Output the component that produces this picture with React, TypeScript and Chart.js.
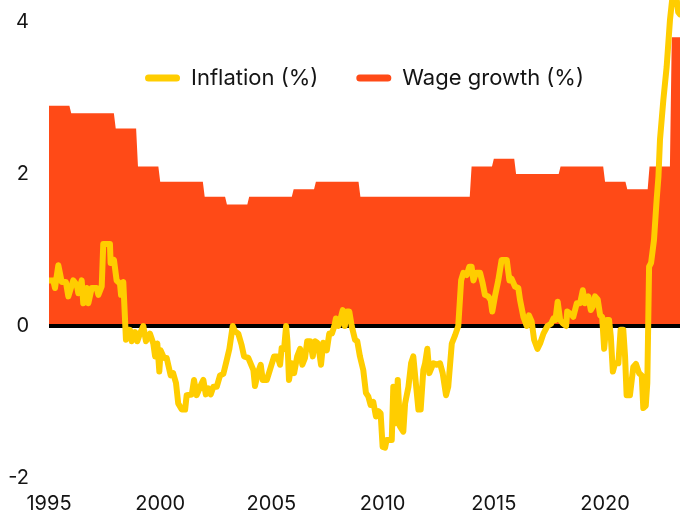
import React, { useEffect, useRef } from "react";
import { Chart, registerables } from "chart.js";

Chart.register(...registerables);

// Axis ticks
const xTickYears = [1995, 2000, 2005, 2010, 2015, 2020];
const yTickValues = [-2, 0, 2, 4];
const X_MIN = 1995;
const X_MAX = 2023.37;
const Y_MIN = -2;
const Y_MAX = 4.29;

// Wage growth (%), one value per year
const wageYears = [
  1995, 1996, 1997, 1998, 1999, 2000, 2001, 2002, 2003, 2004, 2005, 2006, 2007, 2008, 2009,
  2010, 2011, 2012, 2013, 2014, 2015, 2016, 2017, 2018, 2019, 2020, 2021, 2022, 2023,
];
const wageValues = [
  2.9, 2.8, 2.8, 2.6, 2.1, 1.9, 1.9, 1.7, 1.6, 1.7, 1.7, 1.8, 1.9, 1.9, 1.7,
  1.7, 1.7, 1.7, 1.7, 2.1, 2.2, 2.0, 2.0, 2.1, 2.1, 1.9, 1.8, 2.1, 3.8,
];

// Inflation (%), dates as decimal years
const inflationDates = [
  1995.0, 1995.19, 1995.27, 1995.42, 1995.57, 1995.76, 1995.87, 1996.09, 1996.25, 1996.32,
  1996.47, 1996.54, 1996.7, 1996.77, 1996.92, 1997.14, 1997.22, 1997.37, 1997.44, 1997.74,
  1997.77, 1997.92, 1998.04, 1998.19, 1998.24, 1998.34, 1998.46, 1998.52, 1998.64, 1998.72,
  1998.87, 1998.97, 1999.09, 1999.24, 1999.36, 1999.54, 1999.69, 1999.77, 1999.87, 1999.96,
  2000.02, 2000.17, 2000.29, 2000.47, 2000.58, 2000.71, 2000.81, 2000.97, 2001.12, 2001.19,
  2001.42, 2001.52, 2001.64, 2001.87, 2001.94, 2002.05, 2002.16, 2002.27, 2002.39, 2002.54,
  2002.69, 2002.84, 2002.99, 2003.11, 2003.26, 2003.36, 2003.51, 2003.66, 2003.77, 2003.96,
  2004.19, 2004.26, 2004.41, 2004.52, 2004.61, 2004.79, 2004.91, 2005.12, 2005.27, 2005.39,
  2005.46, 2005.57, 2005.66, 2005.72, 2005.79, 2005.91, 2006.02, 2006.16, 2006.29, 2006.39,
  2006.51, 2006.61, 2006.74, 2006.86, 2006.96, 2007.06, 2007.14, 2007.23, 2007.33, 2007.49,
  2007.6, 2007.72, 2007.83, 2007.9, 2008.01, 2008.11, 2008.21, 2008.3, 2008.39, 2008.5,
  2008.61, 2008.76, 2008.86, 2008.98, 2009.13, 2009.25, 2009.36, 2009.46, 2009.58, 2009.7,
  2009.81, 2009.91, 2010.0, 2010.11, 2010.18, 2010.41, 2010.48, 2010.59, 2010.68, 2010.78,
  2010.93, 2011.01, 2011.16, 2011.28, 2011.38, 2011.46, 2011.61, 2011.71, 2011.83, 2011.91,
  2012.01, 2012.1, 2012.28, 2012.43, 2012.58, 2012.7, 2012.85, 2012.95, 2013.11, 2013.26,
  2013.4, 2013.53, 2013.63, 2013.78, 2013.9, 2014.0, 2014.08, 2014.2, 2014.38, 2014.5,
  2014.6, 2014.75, 2014.86, 2014.93, 2015.05, 2015.2, 2015.35, 2015.58, 2015.7, 2015.8,
  2015.95, 2016.1, 2016.18, 2016.33, 2016.48, 2016.58, 2016.7, 2016.81, 2016.96, 2017.08,
  2017.23, 2017.41, 2017.57, 2017.68, 2017.77, 2017.87, 2017.98, 2018.12, 2018.25, 2018.3,
  2018.5, 2018.57, 2018.73, 2018.88, 2019.0, 2019.1, 2019.25, 2019.36, 2019.46, 2019.55,
  2019.67, 2019.78, 2019.87, 2019.96, 2020.08, 2020.18, 2020.26, 2020.35, 2020.45, 2020.6,
  2020.7, 2020.82, 2020.9, 2020.97, 2021.12, 2021.27, 2021.39, 2021.53, 2021.65, 2021.72,
  2021.83, 2021.9, 2021.98, 2022.07, 2022.2, 2022.32, 2022.4, 2022.47, 2022.62, 2022.77,
  2022.92, 2023.02, 2023.22, 2023.29, 2023.37,
];
const inflationValues = [
  0.6, 0.6, 0.5, 0.8, 0.58, 0.58, 0.39, 0.6, 0.54, 0.43,
  0.6, 0.3, 0.5, 0.3, 0.5, 0.5, 0.41, 0.52, 1.08, 1.08,
  0.83, 0.87, 0.6, 0.56, 0.41, 0.58, -0.18, -0.05, -0.05, -0.2,
  -0.08, -0.2, -0.1, 0.0, -0.2, -0.1, -0.23, -0.4, -0.23, -0.6,
  -0.32, -0.42, -0.42, -0.65, -0.62, -0.75, -1.02, -1.1, -1.1, -0.91,
  -0.9, -0.71, -0.91, -0.75, -0.71, -0.9, -0.82, -0.9, -0.8, -0.8,
  -0.65, -0.63, -0.45, -0.3, 0.0, -0.07, -0.1, -0.25, -0.4, -0.42,
  -0.58, -0.79, -0.6, -0.51, -0.71, -0.71, -0.6, -0.4, -0.4, -0.51,
  -0.29, -0.3, 0.0, -0.2, -0.71, -0.49, -0.62, -0.4, -0.3, -0.51,
  -0.42, -0.2, -0.2, -0.4, -0.2, -0.22, -0.32, -0.51, -0.22, -0.32,
  -0.1, -0.1, 0.0, 0.1, 0.0, 0.1, 0.21, 0.0, 0.19, 0.19,
  0.0, -0.18, -0.2, -0.4, -0.58, -0.88, -0.93, -1.04, -1.0, -1.19,
  -1.12, -1.15, -1.59, -1.6, -1.5, -1.5, -0.8, -1.28, -0.71, -1.32,
  -1.39, -1.02, -0.8, -0.49, -0.4, -0.65, -1.1, -1.1, -0.58, -0.49,
  -0.3, -0.62, -0.49, -0.51, -0.49, -0.62, -0.91, -0.8, -0.23, -0.12,
  0.0, 0.6, 0.7, 0.67, 0.78, 0.78, 0.6, 0.7, 0.7, 0.56,
  0.41, 0.39, 0.34, 0.19, 0.39, 0.6, 0.87, 0.87, 0.6, 0.62,
  0.52, 0.5, 0.34, 0.12, 0.0, 0.14, 0.06, -0.18, -0.3, -0.23,
  -0.1, 0.0, 0.03, 0.1, 0.08, 0.32, 0.08, 0.03, 0.0, 0.19,
  0.15, 0.12, 0.3, 0.3, 0.47, 0.3, 0.39, 0.21, 0.26, 0.39,
  0.35, 0.14, 0.12, -0.3, 0.08, 0.08, -0.14, -0.6, -0.49, -0.49,
  -0.05, -0.05, -0.4, -0.91, -0.91, -0.54, -0.5, -0.62, -0.65, -1.08,
  -1.05, -0.75, 0.78, 0.83, 1.13, 1.66, 1.96, 2.45, 2.97, 3.41,
  4.03, 4.3, 4.3, 4.13, 4.1,
];

const INFLATION_COLOR = "#FFCD00";
const WAGE_COLOR = "#FF4A17";
const TEXT_COLOR = "#141414";
const FONT_FAMILY = "Inter, 'Open Sans', sans-serif";

// Lets the (zero-height) legend draw over the top of the plot area, centred on it
const legendOverlayPlugin = {
  id: "legendOverlay",
  afterLayout(chart: any) {
    const lg = chart.legend;
    if (lg) {
      lg.height = 130;
      lg.bottom = lg.top + 130;
      lg.left = chart.chartArea.left;
      lg.right = chart.chartArea.right;
      lg.width = lg.right - lg.left;
    }
  },
};

export default function App() {
  const canvasRef = useRef<HTMLCanvasElement | null>(null);

  useEffect(() => {
    if (!canvasRef.current) return;

    const wagePoints: { x: number; y: number }[] = [];
    wageYears.forEach((yr, i) => {
      wagePoints.push({ x: yr, y: wageValues[i] });
      wagePoints.push({ x: yr + 11 / 12, y: wageValues[i] });
    });
    const inflationPoints = inflationDates.map((d, i) => ({ x: d, y: inflationValues[i] }));
    const zeroPoints = [
      { x: X_MIN, y: 0 },
      { x: X_MAX, y: 0 },
    ];

    const chart = new Chart(canvasRef.current, {
      type: "line",
      plugins: [legendOverlayPlugin],
      data: {
        datasets: [
          {
            label: "Inflation (%)",
            data: inflationPoints,
            borderColor: INFLATION_COLOR,
            backgroundColor: INFLATION_COLOR,
            borderWidth: 6,
            pointRadius: 0,
            fill: false,
            tension: 0,
            borderJoinStyle: "round",
            borderCapStyle: "round",
            order: 0,
          },
          {
            label: "zero",
            data: zeroPoints,
            borderColor: "#000000",
            backgroundColor: "#000000",
            borderWidth: 4,
            pointRadius: 0,
            fill: false,
            order: 1,
          },
          {
            label: "Wage growth (%)",
            data: wagePoints,
            borderColor: WAGE_COLOR,
            backgroundColor: WAGE_COLOR,
            borderWidth: 0,
            pointRadius: 0,
            fill: "origin",
            tension: 0,
            order: 2,
          },
        ],
      },
      options: {
        animation: false,
        responsive: true,
        maintainAspectRatio: false,
        parsing: false,
        layout: { padding: 0 },
        plugins: {
          tooltip: { enabled: false },
          legend: {
            display: true,
            position: "top",
            align: "center",
            maxHeight: 0.01,
            title: {
              display: true,
              text: "",
              font: { size: 10 },
              padding: { top: 17, bottom: 0 },
            },
            labels: {
              boxWidth: 35,
              boxHeight: 7,
              padding: 38,
              color: TEXT_COLOR,
              font: { family: FONT_FAMILY, size: 22 },
              useBorderRadius: true,
              borderRadius: 3.5,
              filter: (item: any) => item.text !== "zero",
              generateLabels: (chart: any) =>
                Chart.defaults.plugins.legend.labels.generateLabels(chart).map((l: any) => ({
                  ...l,
                  lineWidth: 0,
                  strokeStyle: l.fillStyle,
                })),
            },
          },
        },
        scales: {
          x: {
            type: "linear",
            min: X_MIN,
            max: X_MAX,
            grid: { display: false, drawTicks: false, tickLength: 0 },
            border: { display: false },
            afterBuildTicks: (scale: any) => {
              scale.ticks = xTickYears.map((v) => ({ value: v }));
            },
            afterFit: (scale: any) => {
              scale.height = 38;
              scale.paddingLeft = 0;
              scale.paddingRight = 0;
            },
            ticks: {
              autoSkip: false,
              maxRotation: 0,
              padding: 14,
              color: TEXT_COLOR,
              font: { family: FONT_FAMILY, size: 20 },
              callback: (v: any) => String(v),
            },
          },
          y: {
            type: "linear",
            min: Y_MIN,
            max: Y_MAX,
            grid: { display: false, drawTicks: false, tickLength: 0 },
            border: { display: false },
            afterBuildTicks: (scale: any) => {
              scale.ticks = yTickValues.map((v) => ({ value: v }));
            },
            afterFit: (scale: any) => {
              scale.width = 49;
              scale.paddingTop = 0;
              scale.paddingBottom = 0;
            },
            ticks: {
              padding: 20,
              color: TEXT_COLOR,
              font: { family: FONT_FAMILY, size: 20 },
              callback: (v: any) => String(v),
            },
          },
        },
      },
    });

    return () => chart.destroy();
  }, []);

  return (
    <div style={{ position: "absolute", left: 0, top: 0, width: 680, height: 516 }}>
      <canvas ref={canvasRef} />
    </div>
  );
}
